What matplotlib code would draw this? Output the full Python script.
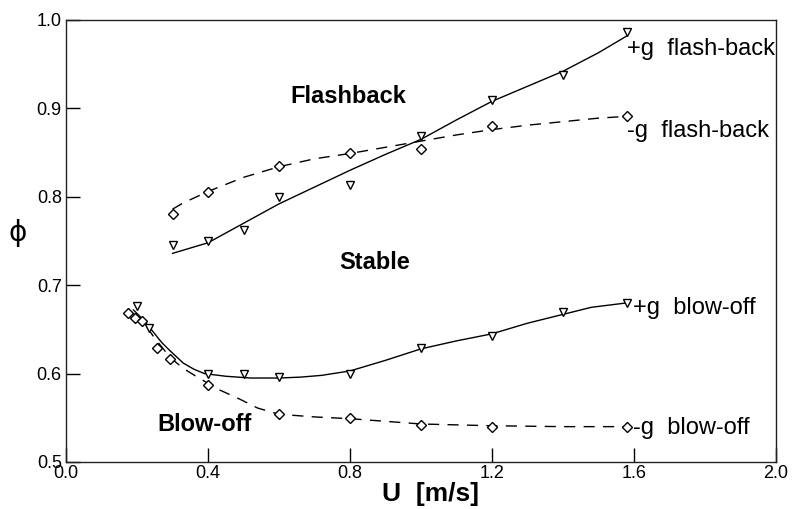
import matplotlib
matplotlib.use("Agg")
import matplotlib.pyplot as plt

plt.rcParams['font.family'] = ['Liberation Sans', 'DejaVu Sans']

# ---- data ----
flash_plus_u = [0.3, 0.4, 0.5, 0.6, 0.8, 1.0, 1.2, 1.4, 1.58]
flash_plus_phi = [0.746, 0.750, 0.762, 0.800, 0.813, 0.869, 0.910, 0.938, 0.986]
flash_plus_fit_u = [0.3, 0.4, 0.5, 0.6, 0.7, 0.8, 0.9, 1.0, 1.1, 1.2, 1.3, 1.4, 1.5, 1.58]
flash_plus_fit_phi = [0.736, 0.748, 0.770, 0.792, 0.811, 0.830, 0.848, 0.865, 0.887, 0.908, 0.925, 0.942, 0.963, 0.982]

flash_minus_u = [0.3, 0.4, 0.6, 0.8, 1.0, 1.2, 1.58]
flash_minus_phi = [0.780, 0.805, 0.835, 0.850, 0.854, 0.880, 0.891]
flash_minus_fit_u = [0.3, 0.33, 0.4, 0.5, 0.6, 0.7, 0.8, 0.9, 1.0, 1.1, 1.2, 1.3, 1.4, 1.5, 1.58]
flash_minus_fit_phi = [0.786, 0.793, 0.806, 0.822, 0.834, 0.843, 0.849, 0.856, 0.863, 0.870, 0.876, 0.881, 0.885, 0.889, 0.891]

blow_plus_u = [0.2, 0.235, 0.4, 0.5, 0.6, 0.8, 1.0, 1.2, 1.4, 1.58]
blow_plus_phi = [0.676, 0.652, 0.600, 0.600, 0.596, 0.600, 0.629, 0.643, 0.670, 0.680]
blow_plus_fit_u = [0.19, 0.21, 0.24, 0.27, 0.29, 0.33, 0.36, 0.39, 0.45, 0.52, 0.6, 0.66, 0.72,
                   0.8, 0.9, 1.0, 1.1, 1.2, 1.3, 1.4, 1.48, 1.58]
blow_plus_fit_phi = [0.672, 0.664, 0.650, 0.635, 0.627, 0.612, 0.605, 0.600, 0.597, 0.595, 0.595,
                     0.596, 0.598, 0.603, 0.615, 0.628, 0.637, 0.645, 0.657, 0.667, 0.675, 0.680]

blow_minus_u = [0.175, 0.195, 0.213, 0.256, 0.293, 0.4, 0.6, 0.8, 1.0, 1.2, 1.58]
blow_minus_phi = [0.669, 0.663, 0.660, 0.629, 0.616, 0.587, 0.554, 0.550, 0.542, 0.540, 0.540]
blow_minus_fit_u = [0.19, 0.22, 0.25, 0.28, 0.3, 0.33, 0.37, 0.4, 0.43, 0.49, 0.54, 0.6, 0.7,
                    0.8, 0.9, 1.0, 1.2, 1.4, 1.58]
blow_minus_fit_phi = [0.668, 0.657, 0.640, 0.625, 0.616, 0.606, 0.596, 0.589, 0.582, 0.571, 0.561,
                      0.554, 0.551, 0.549, 0.546, 0.543, 0.541, 0.540, 0.540]

x_ticks = [0.0, 0.4, 0.8, 1.2, 1.6, 2.0]
y_ticks = [0.5, 0.6, 0.7, 0.8, 0.9, 1.0]

# ---- figure ----
fig = plt.figure(figsize=(7.93, 5.09), dpi=100)
ax = fig.add_axes([66/793, 47/509, 710/793, 442/509])

dash = (0, (8, 6))
lw = 1.0
ax.plot(flash_plus_fit_u, flash_plus_fit_phi, '-', color='black', lw=lw)
ax.plot(flash_minus_fit_u, flash_minus_fit_phi, linestyle=dash, color='black', lw=lw)
ax.plot(blow_plus_fit_u, blow_plus_fit_phi, '-', color='black', lw=lw)
ax.plot(blow_minus_fit_u, blow_minus_fit_phi, linestyle=dash, color='black', lw=lw)

tri = dict(marker='v', ms=5.5, mfc='white', mec='black', mew=1.0, ls='none')
dia = dict(marker='D', ms=5.3, mfc='white', mec='black', mew=1.0, ls='none')
ax.plot(flash_plus_u, flash_plus_phi, **tri)
ax.plot(blow_plus_u, blow_plus_phi, **tri)
ax.plot(flash_minus_u, flash_minus_phi, **dia)
ax.plot(blow_minus_u, blow_minus_phi, **dia)

ax.set_xlim(0.0, 2.0)
ax.set_ylim(0.5, 1.0)
ax.set_xticks(x_ticks)
ax.set_xticklabels([f"{v:.1f}" for v in x_ticks])
ax.set_yticks(y_ticks)
ax.set_yticklabels([f"{v:.1f}" for v in y_ticks])
ax.tick_params(direction='in', length=10, width=1.0, labelsize=13, pad=3, colors='black')
ax.tick_params(axis='x', pad=2)
for s in ax.spines.values():
    s.set_linewidth(1.0)
    s.set_color('#222222')

ax.set_xlabel("U  [m/s]", fontsize=19, fontweight='bold')
ax.xaxis.set_label_coords((431 - 66) / 710, -0.073)
ax.xaxis.label.set_va('center')
fig.text(18/793, 1 - 233/509, "ϕ", fontsize=20, ha='center', va='center',
         family=['DejaVu Sans'])

# region labels
ax.text(0.631, 0.906, "Flashback", fontsize=17, fontweight='bold', ha='left', va='baseline')
ax.text(0.769, 0.718, "Stable", fontsize=17, fontweight='bold', ha='left', va='baseline')
ax.text(0.256, 0.535, "Blow-off", fontsize=17, fontweight='bold', ha='left', va='baseline')

# curve labels
ax.text(1.581, 0.960, "+g  flash-back", fontsize=17, ha='left', va='baseline')
ax.text(1.581, 0.868, "-g  flash-back", fontsize=17, ha='left', va='baseline')
ax.text(1.598, 0.667, "+g  blow-off", fontsize=17, ha='left', va='baseline')
ax.text(1.596, 0.532, "-g  blow-off", fontsize=17, ha='left', va='baseline')

fig.savefig("out.png", dpi=100)
